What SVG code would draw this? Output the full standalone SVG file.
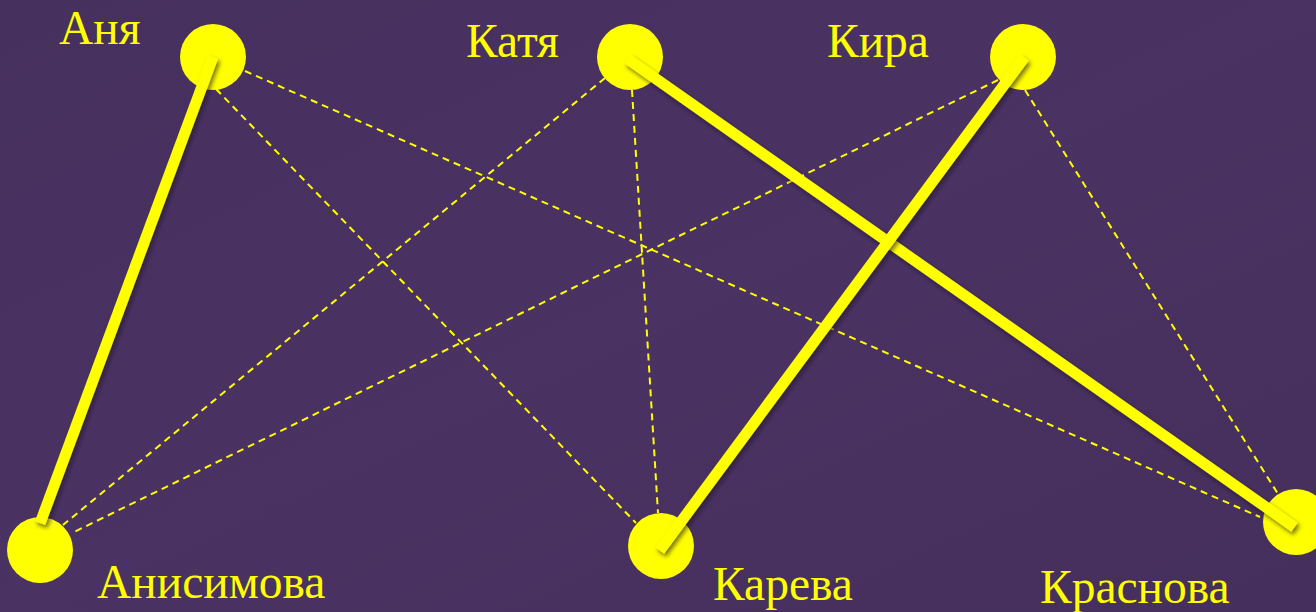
<svg xmlns="http://www.w3.org/2000/svg" width="1316" height="612" viewBox="0 0 1316 612">
<defs>
<style>
.node{fill:#ffff00;}
.lbl{fill:#ffff00;font-family:"Liberation Serif","Times New Roman",serif;font-size:47.5px;}
.thick{stroke:#ffff00;stroke-width:11;stroke-linecap:square;fill:none;filter:url(#sh);}
.dash{stroke:#ffff00;stroke-width:2;stroke-dasharray:7 5;fill:none;}
</style>
<filter id="sh" x="-20%" y="-20%" width="140%" height="140%">
<feDropShadow dx="2" dy="3" stdDeviation="2" flood-color="#1a0f25" flood-opacity="0.6"/>
</filter>
<linearGradient id="bg" x1="0" y1="0" x2="1" y2="1">
<stop offset="0" stop-color="#46305e"/>
<stop offset="0.5" stop-color="#4a3262"/>
<stop offset="1" stop-color="#452f5c"/>
</linearGradient>
</defs>
<rect width="1316" height="612" fill="url(#bg)"/>
<g id="node-anya"><circle class="node" cx="213" cy="57" r="33"/><text class="lbl" x="59" y="44">Аня</text></g>
<g id="node-katya"><circle class="node" cx="630" cy="57" r="33"/><text class="lbl" x="466" y="57">Катя</text></g>
<g id="node-kira"><circle class="node" cx="1023" cy="57" r="33"/><text class="lbl" x="827" y="57">Кира</text></g>
<g id="node-anisimova"><circle class="node" cx="40" cy="550" r="33"/><text class="lbl" x="97" y="598">Анисимова</text></g>
<g id="node-kareva"><circle class="node" cx="661" cy="546" r="33"/><text class="lbl" x="713" y="600">Карева</text></g>
<g id="node-krasnova"><circle class="node" cx="1296" cy="522" r="33"/><text class="lbl" x="1040" y="603">Краснова</text></g>
<g id="connectors">
<line class="dash" x1="245" y1="71" x2="1260" y2="517"/>
<line class="dash" x1="216" y1="89" x2="636" y2="523"/>
<line class="dash" x1="605" y1="78" x2="63" y2="525"/>
<line class="dash" x1="632" y1="90" x2="658" y2="513"/>
<line class="dash" x1="998" y1="80" x2="72" y2="533"/>
<line class="dash" x1="1025" y1="90" x2="1278" y2="494"/>
<line class="thick" x1="211" y1="62" x2="42" y2="518"/>
<line class="thick" x1="632" y1="62" x2="1290" y2="524"/>
<line class="thick" x1="1021" y1="62" x2="663" y2="546"/>
</g>
</svg>
